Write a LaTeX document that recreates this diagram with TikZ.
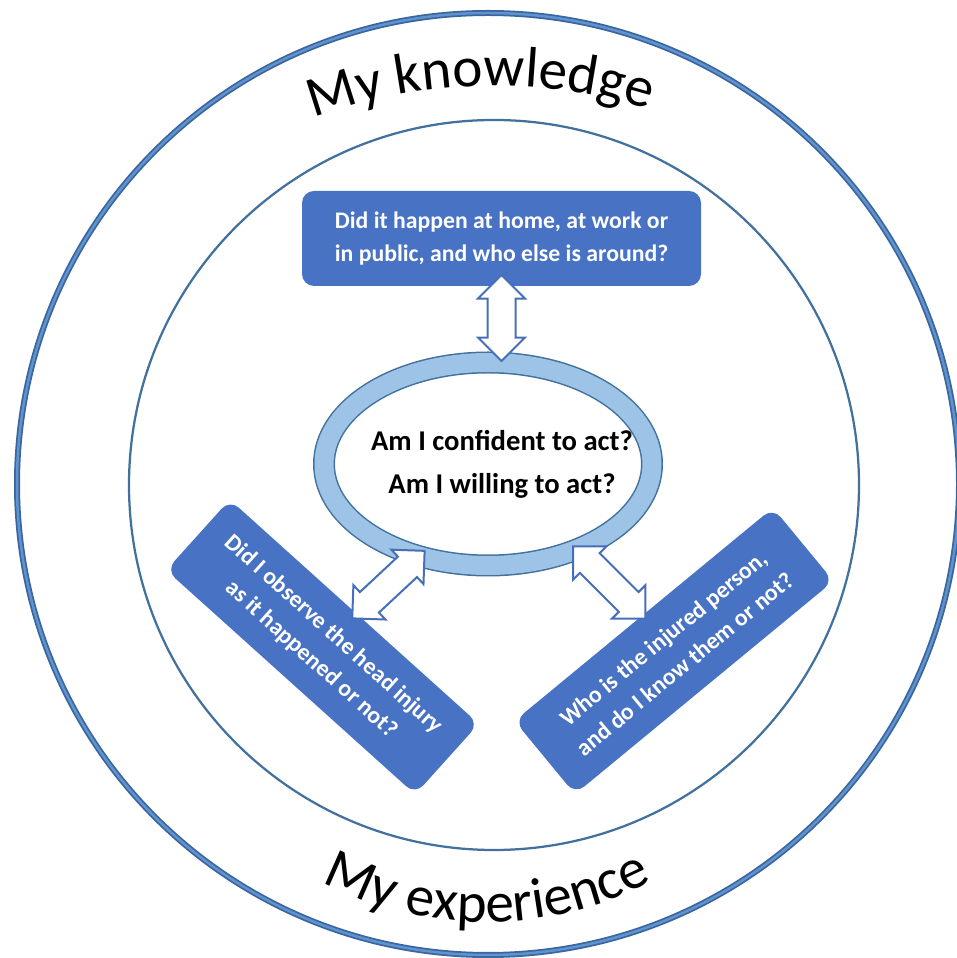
\documentclass[tikz,border=0pt]{standalone}
\usepackage{fontspec}
\setmainfont{Carlito}
\usetikzlibrary{positioning,shapes.geometric,shapes.arrows,decorations.text,calc}
\definecolor{boxblue}{RGB}{72,114,196}
\definecolor{ringfill}{RGB}{157,195,230}
\definecolor{ringedge}{RGB}{65,113,156}
\definecolor{rimblue}{RGB}{96,146,206}
\definecolor{rimdark}{RGB}{58,102,160}
\definecolor{arrowedge}{RGB}{70,110,185}
\tikzset{
  question/.style={fill=boxblue,text=white,rounded corners=2.4mm,inner sep=0pt,
    minimum height=19mm,align=center,font=\fontsize{13.5}{19}\selectfont\bfseries},
  bidir/.style={double arrow,draw=arrowedge,fill=white,line width=0.4mm,
    double arrow head extend=1.9mm,inner sep=2.6mm,minimum height=#1},
  bidir/.default=18mm,
  arcword/.style={decorate,decoration={text along path,text align=center,
    text={|\fontsize{32.5}{38}\selectfont|#1}}},
}

\begin{document}
\begin{tikzpicture}
  \useasboundingbox (0,0) rectangle (19.14,19.16);
  % the two rings
  \draw[rimdark,line width=1.2mm] (9.76,9.48) circle (9.42);
  \draw[rimblue,line width=0.5mm] (9.76,9.48) circle (9.42);
  \draw[ringedge,line width=0.45mm] (9.88,9.46) circle (7.30);

  % words on the arcs
  \path[arcword={My knowledge}] (9.88,7.04) ++(137:10.4) arc (137:46:10.4);
  \path[arcword={My experience}] (9.74,7.82) ++(200:7.1) arc (200:340:7.1);

  % question boxes
  \node[question,minimum width=79.8mm] (where) at (10.03,14.39)
    {Did it happen at home, at work or\\in public, and who else is around?};
  \node[question,minimum width=67mm,rotate=-42] (seen) at (6.45,6.22)
    {Did I observe the head injury\\as it happened or not?};
  \node[question,minimum width=67mm,rotate=39.5] (who) at (13.48,6.14)
    {Who is the injured person,\\and do I know them or not?};

  % centre
  \node[ellipse,draw=ringedge,line width=0.3mm,double=ringfill,double distance=3.8mm,
    minimum width=65.6mm,minimum height=40.6mm,inner sep=0pt] (ring) at (9.76,9.88) {};
  \node[font=\fontsize{16.3}{24.5}\selectfont\bfseries,align=center] (ask) at (10.04,9.88)
    {Am I confident to act?\\Am I willing to act?};

  % links
  \path (where.south) -- (where.south |- ring.north) node[bidir=17.2mm,pos=0.42,sloped] (up) {};
  \path (seen.north) -- (ring.235) node[bidir=19.8mm,midway,rotate=43] (dl) {};
  \path (who.north) -- (ring.315) node[bidir=20.4mm,midway,rotate=-45] (dr) {};
\end{tikzpicture}
\end{document}
